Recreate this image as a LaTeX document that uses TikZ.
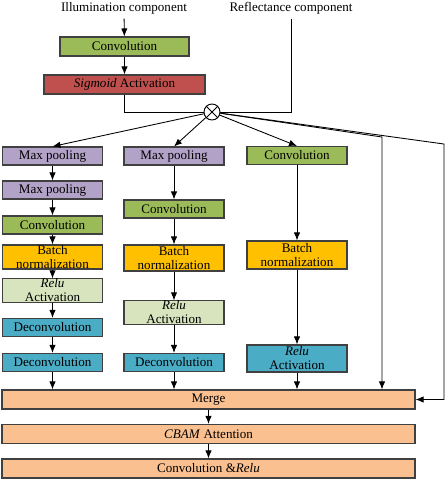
\documentclass[tikz,border=0pt]{standalone}
\usepackage{fontspec}
\setmainfont{Liberation Serif}
\usetikzlibrary{arrows.meta,calc}

\begin{document}
\begin{tikzpicture}[
  x=0.75pt, y=-0.75pt,
  font=\fontsize{9.8}{10.5}\selectfont,
  layer/.style={draw=black!75, line width=0.8pt, align=center, inner sep=0pt, minimum width=75pt, minimum height=13.5pt},
  wide/.style={layer, minimum width=309.75pt, minimum height=14.25pt, fill=peach},
  arrow/.style={-{Latex[length=6pt,width=4.8pt]}, line width=0.65pt},
  link/.style={line width=0.65pt}
]
\definecolor{convg}{HTML}{9BBB59}
\definecolor{sigr}{HTML}{C0504D}
\definecolor{poolp}{HTML}{B3A2C7}
\definecolor{bnorm}{HTML}{FFC000}
\definecolor{relug}{HTML}{D7E4BD}
\definecolor{deconvb}{HTML}{4BACC6}
\definecolor{peach}{HTML}{FAC090}
\useasboundingbox (0,0) rectangle (447,480);

% inputs
\node (illum) at (124,8) {Illumination component};
\node (refl) at (291,8) {Reflectance component};
\node[layer, fill=convg, minimum width=96.75pt, minimum height=14.25pt] (conv0) at (124.5,46.5) {Convolution};
\node[layer, fill=sigr, minimum width=120.75pt, minimum height=14.25pt] (sigm) at (124.5,84.5) {\textit{Sigmoid} Activation};
\node[draw, circle, line width=0.7pt, minimum size=12pt, inner sep=0pt] (mult) at (212,112) {};
\draw[link] (mult.north west) -- (mult.south east) (mult.north east) -- (mult.south west);

% branch 1
\node[layer, fill=poolp] (mp1a) at (52.5,156) {Max pooling};
\node[layer, fill=poolp] (mp1b) at (52.5,190) {Max pooling};
\node[layer, fill=convg] (cv1) at (52.5,225) {Convolution};
\node[layer, fill=bnorm, minimum height=18pt] (bn1) at (52.5,257) {Batch\\normalization};
\node[layer, fill=relug, minimum height=17.25pt] (ra1) at (52.5,290.5) {\textit{Relu}\\Activation};
\node[layer, fill=deconvb] (dc1a) at (52.5,327.5) {Deconvolution};
\node[layer, fill=deconvb] (dc1b) at (52.5,362.5) {Deconvolution};

% branch 2
\node[layer, fill=poolp] (mp2) at (174,156) {Max pooling};
\node[layer, fill=convg] (cv2) at (174,209) {Convolution};
\node[layer, fill=bnorm, minimum height=19.5pt] (bn2) at (174,258) {Batch\\normalization};
\node[layer, fill=relug, minimum height=17.25pt] (ra2) at (174,312.5) {\textit{Relu}\\Activation};
\node[layer, fill=deconvb] (dc2) at (174,362.5) {Deconvolution};

% branch 3
\node[layer, fill=convg] (cv3) at (297,155.5) {Convolution};
\node[layer, fill=bnorm, minimum height=21pt] (bn3) at (297,255) {Batch\\normalization};
\node[layer, fill=deconvb, minimum height=20.25pt] (ra3) at (297,358.5) {\textit{Relu}\\Activation};

% fusion
\node[wide] (merge) at (208.5,399.5) {Merge};
\node[wide] (cbam) at (208.5,434) {\textit{CBAM} Attention};
\node[wide] (final) at (208.5,468.5) {Convolution \&\textit{Relu}};

\coordinate (skipa) at (382,137);
\coordinate (skipb) at (444,144);

\draw[arrow] (illum) -- (conv0);
\draw[arrow] (conv0) -- (sigm);
\draw[link] (sigm) |- (mult);
\draw[link] (refl) |- (mult);

\draw[arrow] (mult) -- (mp1a.north);
\draw[arrow] (mult) -- (mp2.north);
\draw[arrow] (mult) -- (cv3.north);
\draw[arrow] (mult) -- (skipa) -- (skipa |- merge.north);
\draw[arrow] (mult) -- (skipb) -- (skipb |- merge) -- (merge.east);

\draw[arrow] (mp1a) -- (mp1b);
\draw[arrow] (mp1b) -- (cv1);
\draw[arrow] (cv1) -- (bn1);
\draw[arrow] (bn1) -- (ra1);
\draw[arrow] (ra1) -- (dc1a);
\draw[arrow] (dc1a) -- (dc1b);
\draw[arrow] (dc1b) -- (dc1b |- merge.north);

\draw[arrow] (mp2) -- (cv2);
\draw[arrow] (cv2) -- (bn2);
\draw[arrow] (bn2) -- (ra2);
\draw[arrow] (ra2) -- (dc2);
\draw[arrow] (dc2) -- (dc2 |- merge.north);

\draw[arrow] (cv3) -- (bn3);
\draw[arrow] (bn3) -- (ra3);
\draw[arrow] (ra3) -- (ra3 |- merge.north);

\draw[arrow] (merge) -- (cbam);
\draw[arrow] (cbam) -- (final);
\end{tikzpicture}
\end{document}
